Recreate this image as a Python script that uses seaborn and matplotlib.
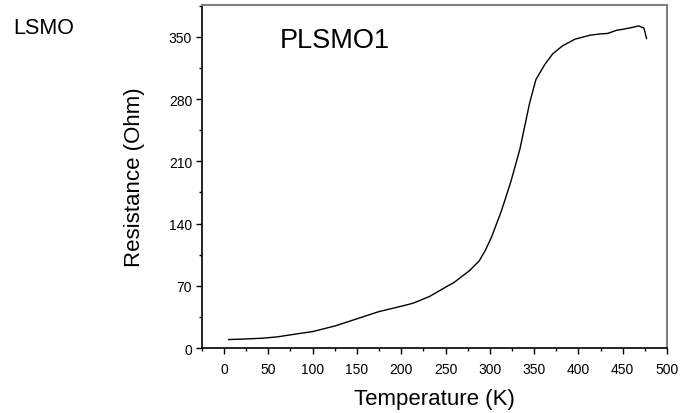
import numpy as np
import pandas as pd
import matplotlib
matplotlib.use('Agg')
import matplotlib.pyplot as plt
import seaborn as sns
from matplotlib.ticker import MultipleLocator

sns.set_theme(style='ticks')
plt.rcParams['font.family'] = ['Liberation Sans', 'DejaVu Sans']
plt.rcParams['text.color'] = 'black'
plt.rcParams['axes.labelcolor'] = 'black'

# R(T) curve
temperature = [5, 20, 43, 60, 73, 85, 100, 126, 152, 175, 200, 210, 215, 232, 251, 260,
               277, 288, 295, 302, 313, 324, 334, 345, 352, 362, 371, 382, 396,
               413, 425, 433, 443, 452, 462, 468, 474, 477]
resistance = [9.5, 10, 11, 12.5, 14.5, 16.3, 18.5, 25, 33.5, 41, 47, 49.5, 51, 58, 69, 74,
              87, 98, 110, 125, 154, 188, 224, 276, 302, 319, 331, 340, 347.5,
              352, 353.5, 354, 357.5, 359, 361, 362.5, 360, 348]
x_ticks = [0, 50, 100, 150, 200, 250, 300, 350, 400, 450, 500]
y_ticks = [0, 70, 140, 210, 280, 350]

df = pd.DataFrame({'T': temperature, 'R': resistance})

fig = plt.figure(figsize=(6.82, 4.14), dpi=100)
ax = fig.add_axes([0.296, 0.157, 0.682, 0.8285])
sns.lineplot(data=df, x='T', y='R', ax=ax, color='black', lw=1.0, sort=False, estimator=None)

ax.set_xlim(-25, 500)
ax.set_ylim(0, 386)
ax.set_xticks(x_ticks)
ax.set_yticks(y_ticks)
ax.xaxis.set_minor_locator(MultipleLocator(25))
ax.yaxis.set_minor_locator(MultipleLocator(35))
ax.tick_params(which='major', direction='out', length=4, width=1, labelsize=10,
               colors='black', labelcolor='black', pad=3)
ax.tick_params(which='minor', direction='out', length=2.5, width=1, colors='black')
ax.tick_params(axis='x', pad=6)

for sp in ['left', 'bottom']:
    ax.spines[sp].set_color('black')
    ax.spines[sp].set_linewidth(1.2)
for sp in ['top', 'right']:
    ax.spines[sp].set_color('#808080')
    ax.spines[sp].set_linewidth(1.5)

ax.set_xlabel('Temperature (K)', fontsize=16, labelpad=9)
ax.set_ylabel('Resistance (Ohm)', fontsize=16, labelpad=17)

ax.text(0.285, 0.935, 'PLSMO1', transform=ax.transAxes, fontsize=19.5, ha='center', va='top')
fig.text(0.019, 0.957, 'LSMO', fontsize=15.5, ha='left', va='top')

fig.savefig('out.png', dpi=100)
